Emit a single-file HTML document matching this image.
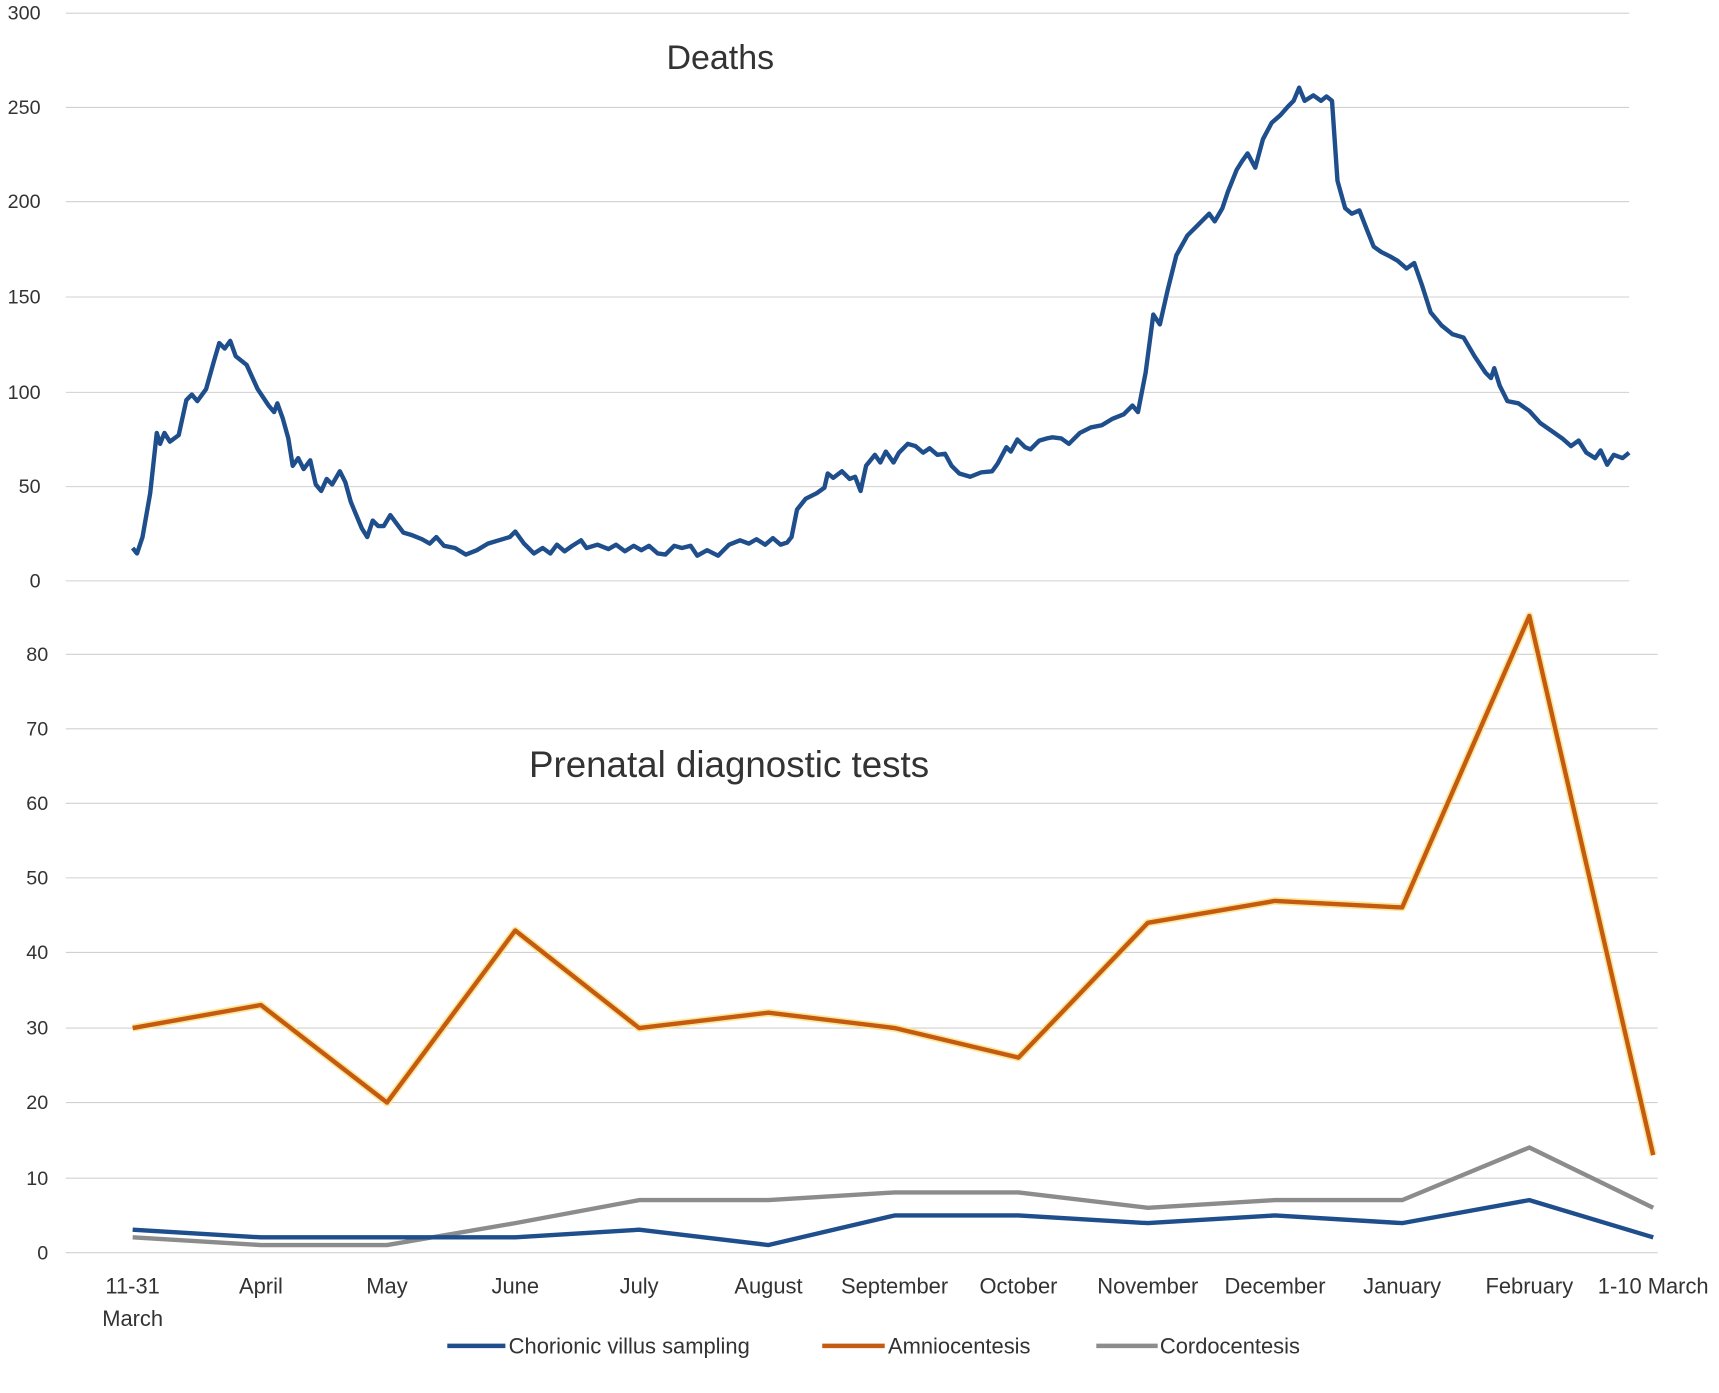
<!DOCTYPE html>
<html><head><meta charset="utf-8"><style>
html,body{margin:0;padding:0;background:#fff;}
svg{display:block;}
text{font-family:"Liberation Sans",sans-serif;fill:#333;}
</style></head><body>
<svg width="1719" height="1393" viewBox="0 0 1568 1271" preserveAspectRatio="none" xmlns="http://www.w3.org/2000/svg">
<g stroke="#d0d0d0" stroke-width="1">
<line x1="60" y1="12" x2="1486" y2="12"/><line x1="60" y1="98" x2="1486" y2="98"/><line x1="60" y1="184" x2="1486" y2="184"/><line x1="60" y1="271" x2="1486" y2="271"/><line x1="60" y1="358" x2="1486" y2="358"/><line x1="60" y1="444" x2="1486" y2="444"/><line x1="60" y1="530" x2="1486" y2="530"/>
<line x1="60" y1="597" x2="1512" y2="597"/><line x1="60" y1="665" x2="1512" y2="665"/><line x1="60" y1="733" x2="1512" y2="733"/><line x1="60" y1="801" x2="1512" y2="801"/><line x1="60" y1="869" x2="1512" y2="869"/><line x1="60" y1="938" x2="1512" y2="938"/><line x1="60" y1="1006" x2="1512" y2="1006"/><line x1="60" y1="1075" x2="1512" y2="1075"/><line x1="60" y1="1143" x2="1512" y2="1143"/>
</g>
<g font-size="18" text-anchor="end">
<text x="37" y="18">300</text><text x="37" y="104">250</text><text x="37" y="190">200</text><text x="37" y="277">150</text><text x="37" y="364">100</text><text x="37" y="450">50</text><text x="37" y="536">0</text>
<text x="44" y="603">80</text><text x="44" y="671">70</text><text x="44" y="739">60</text><text x="44" y="807">50</text><text x="44" y="875">40</text><text x="44" y="944">30</text><text x="44" y="1012">20</text><text x="44" y="1081">10</text><text x="44" y="1149">0</text>
</g>
<text x="657" y="63" font-size="31" text-anchor="middle">Deaths</text>
<text x="665" y="709" font-size="33.5" text-anchor="middle">Prenatal diagnostic tests</text>
<polyline fill="none" stroke="#1f4e8c" stroke-width="4" stroke-linejoin="round" points="121,500 125,505 130,490 137,450 143,395 146,405 150,395 155,403 163,397 170,365 175,360 180,366 188,355 195,330 200,313 205,318 210,311 215,325 225,333 235,355 245,370 250,376 253,368 258,382 263,400 267,425 272,418 277,428 283,420 288,442 293,448 298,437 303,442 310,430 315,440 320,458 325,470 330,482 335,490 340,475 345,480 350,480 356,470 362,478 368,486 375,488 385,492 392,496 398,490 405,498 415,500 425,506 435,502 445,496 455,493 465,490 470,485 478,496 487,505 495,500 502,505 508,497 515,503 522,498 530,493 535,500 545,497 555,501 562,497 570,503 578,498 585,502 592,498 600,505 607,506 615,498 622,500 630,498 636,507 645,502 655,507 665,497 675,493 683,496 690,492 698,497 705,491 712,497 718,495 722,490 727,465 735,455 745,450 752,445 755,432 760,436 768,430 775,437 780,435 785,448 790,425 798,415 803,422 808,412 815,422 820,413 828,405 835,407 842,413 848,409 855,415 862,414 868,425 875,432 885,435 895,431 905,430 910,423 918,408 922,412 928,401 935,408 940,410 948,402 955,400 960,399 968,400 975,405 985,395 995,390 1005,388 1015,382 1025,378 1033,370 1038,376 1045,340 1052,287 1058,296 1065,265 1073,233 1083,215 1093,205 1103,195 1108,202 1115,190 1120,175 1128,155 1133,147 1138,140 1145,153 1152,127 1160,112 1168,105 1175,97 1180,92 1185,80 1190,92 1198,87 1205,92 1210,88 1215,92 1220,165 1227,190 1233,195 1240,192 1247,210 1253,225 1260,230 1268,234 1275,238 1283,245 1290,240 1297,260 1305,285 1315,297 1325,305 1335,308 1345,325 1355,340 1360,345 1363,336 1368,352 1375,366 1385,368 1395,375 1405,386 1415,393 1425,400 1433,407 1440,402 1447,413 1455,418 1460,411 1466,424 1472,415 1480,418 1486,413"/>
<polyline fill="none" stroke="#fbe79a" stroke-width="7" stroke-linejoin="round" points="121,938 238,917 353,1006 470,849 583,938 701,924 816,938 929,965 1047,842 1163,822 1279,828 1395,562 1508,1054"/>
<polyline fill="none" stroke="#c55a11" stroke-width="4" stroke-linejoin="round" points="121,938 238,917 353,1006 470,849 583,938 701,924 816,938 929,965 1047,842 1163,822 1279,828 1395,562 1508,1054"/>
<polyline fill="none" stroke="#8c8c8c" stroke-width="4" stroke-linejoin="round" points="121,1129 238,1136 353,1136 470,1116 583,1095 701,1095 816,1088 929,1088 1047,1102 1163,1095 1279,1095 1395,1047 1508,1102"/>
<polyline fill="none" stroke="#1f4e8c" stroke-width="4" stroke-linejoin="round" points="121,1122 238,1129 353,1129 470,1129 583,1122 701,1136 816,1109 929,1109 1047,1116 1163,1109 1279,1116 1395,1095 1508,1129"/>
<g font-size="20" text-anchor="middle">
<text x="121" y="1180">11-31</text><text x="121" y="1210">March</text>
<text x="238" y="1180">April</text><text x="353" y="1180">May</text><text x="470" y="1180">June</text><text x="583" y="1180">July</text><text x="701" y="1180">August</text><text x="816" y="1180">September</text><text x="929" y="1180">October</text><text x="1047" y="1180">November</text><text x="1163" y="1180">December</text><text x="1279" y="1180">January</text><text x="1395" y="1180">February</text><text x="1508" y="1180">1-10 March</text>
</g>
<line x1="408" y1="1228" x2="461" y2="1228" stroke="#1f4e8c" stroke-width="4"/>
<text x="464" y="1235" font-size="20">Chorionic villus sampling</text>
<line x1="750" y1="1228" x2="807" y2="1228" stroke="#c55a11" stroke-width="4"/>
<text x="810" y="1235" font-size="20">Amniocentesis</text>
<line x1="1000" y1="1228" x2="1056" y2="1228" stroke="#8c8c8c" stroke-width="4"/>
<text x="1058" y="1235" font-size="20">Cordocentesis</text>
</svg>
</body></html>
